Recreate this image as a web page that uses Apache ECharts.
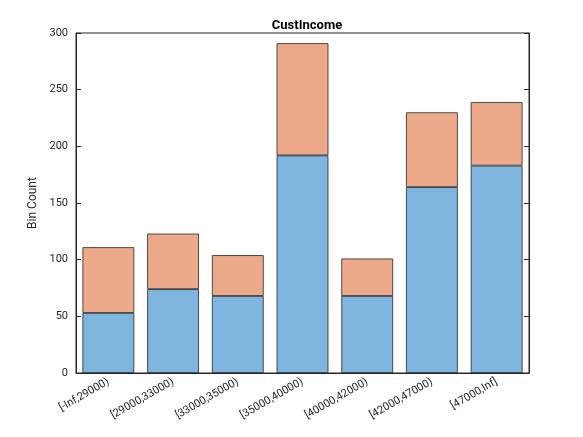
<!DOCTYPE html>
<html><head><meta charset="utf-8">
<script src="https://cdn.jsdelivr.net/npm/echarts@6/dist/echarts.min.js"></script>
<style>html,body{margin:0;padding:0;background:#fff}#c{width:583px;height:437px}</style>
</head><body><div id="c"></div>
<script>
const categories = ['[-Inf,29000)','[29000,33000)','[33000,35000)','[35000,40000)','[40000,42000)','[42000,47000)','[47000,Inf]'];
const seriesBottom = [53, 74, 68, 192, 68, 164, 183];
const seriesTop = [58, 49, 36, 99, 33, 66, 56];
const yTicks = [0, 50, 100, 150, 200, 250, 300];

const chart = echarts.init(document.getElementById('c'));
const axisLine = {show: true, lineStyle: {color: '#262626', width: 1}};
chart.setOption({
  animation: false,
  title: {text: 'CustIncome', left: 302, top: 14, textAlign: 'center',
    textStyle: {fontFamily: 'Roboto', fontSize: 13, fontWeight: 'bold', color: '#000'}},
  grid: {left: 76, right: 54, top: 33, bottom: 64, show: true, borderColor: '#262626', borderWidth: 1},
  xAxis: {type: 'category', data: categories, axisLine: axisLine,
    axisTick: {show: false},
    axisLabel: {rotate: 30, color: '#262626', fontFamily: 'Roboto', fontSize: 11, margin: 8, interval: 0}},
  yAxis: [
    {type: 'value', min: 0, max: 300, interval: 50, axisLine: axisLine,
      axisTick: {show: true, inside: true, length: 5, lineStyle: {color: '#262626'}},
      splitLine: {show: false},
      axisLabel: {color: '#262626', fontFamily: 'Roboto', fontSize: 11, formatter: v => yTicks.includes(v) ? String(v) : ''},
      name: 'Bin Count', nameLocation: 'middle', nameGap: 36,
      nameTextStyle: {color: '#262626', fontFamily: 'Roboto', fontSize: 12}},
    {type: 'value', min: 0, max: 300, interval: 50, position: 'right', axisLine: axisLine,
      axisTick: {show: true, inside: true, length: 5, lineStyle: {color: '#262626'}},
      splitLine: {show: false}, axisLabel: {show: false}}
  ],
  series: [
    {type: 'bar', stack: 's', data: seriesBottom, barWidth: '80%',
      itemStyle: {color: '#7EB6DF', borderColor: '#262626', borderWidth: 0.8}},
    {type: 'bar', stack: 's', data: seriesTop, barWidth: '80%',
      itemStyle: {color: '#EDAA8A', borderColor: '#262626', borderWidth: 0.8}}
  ]
});
</script></body></html>
